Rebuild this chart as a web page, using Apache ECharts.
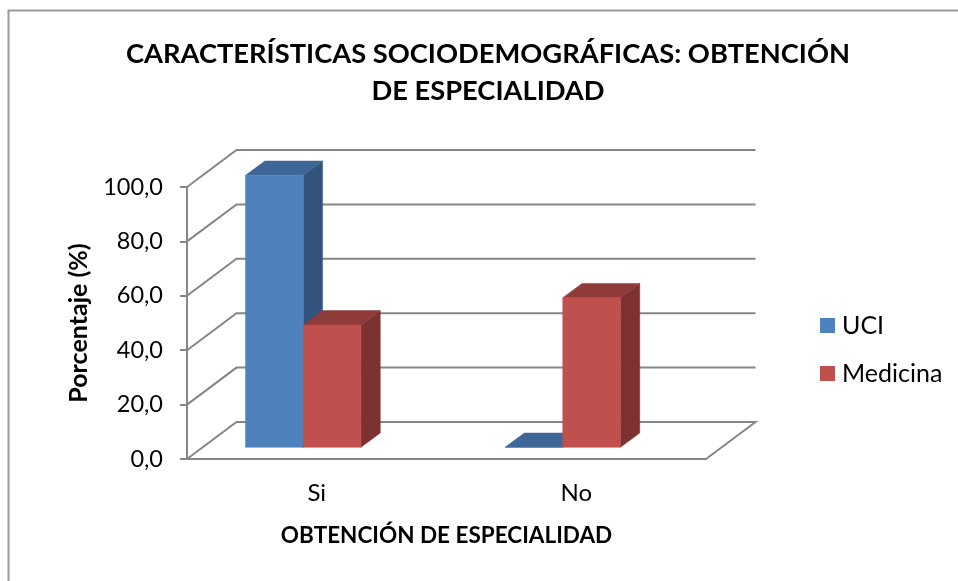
<!DOCTYPE html>
<html><head><meta charset="utf-8">
<style>html,body{margin:0;padding:0;background:#fff}#c{width:958px;height:581px}</style>
<script src="https://cdn.jsdelivr.net/npm/echarts@6/dist/echarts.min.js"></script>
</head><body><div id="c"></div>
<script>
const categories = ['Si', 'No'];
const uci = [100, 0];
const medicina = [45, 55];
const yTicks = [0, 20, 40, 60, 80, 100];

const FONT = 'Lato';
const AXIS = '#868686';
const WALL = {dx: 49.5, dy: 37};
const BAR = {width: 57.7, dx: 19.3, dy: 14.3, liftX: 15.6, liftY: 11.7, shift: -13.5};

function wallItem(params, api) {
  const cs = params.coordSys;
  const v = api.value(0);
  const y = api.coord([categories[0], v])[1];
  const x0 = cs.x, x1 = cs.x + cs.width;
  const pts = v === 0
    ? [[x0, y], [x0 + WALL.dx, y - WALL.dy], [x1 + WALL.dx, y - WALL.dy], [x1, y]]
    : [[x0, y], [x0 + WALL.dx, y - WALL.dy], [x1 + WALL.dx, y - WALL.dy]];
  return {type: 'polyline', shape: {points: pts},
    style: {stroke: AXIS, lineWidth: 2, fill: null}, silent: true};
}

function barRenderer(side, front, sideCol, topCol) {
  return function (params, api) {
    const p = api.coord([api.value(0), api.value(1)]);
    const base = api.coord([api.value(0), 0]);
    const xa = p[0] + BAR.shift + (side < 0 ? -BAR.width : 0);
    const xb = xa + BAR.width;
    const yt = p[1] - BAR.liftY;
    const yb = base[1] - BAR.liftY;
    const d = BAR.dx, e = BAR.dy;
    const poly = (pts, col) => ({type: 'polygon', shape: {points: pts},
      style: {fill: col, stroke: col, lineWidth: 0.5}, silent: true});
    return {type: 'group', children: [
      poly([[xb, yb], [xb + d, yb - e], [xb + d, yt - e], [xb, yt]], sideCol),
      poly([[xa, yt], [xa + d, yt - e], [xb + d, yt - e], [xb, yt]], topCol),
      poly([[xa, yb], [xb, yb], [xb, yt], [xa, yt]], front)
    ]};
  };
}

const chart = echarts.init(document.getElementById('c'), null, {renderer: 'canvas'});
chart.setOption({
  animation: false,
  backgroundColor: '#ffffff',
  title: {
    text: 'CARACTERÍSTICAS SOCIODEMOGRÁFICAS: OBTENCIÓN\nDE ESPECIALIDAD',
    left: 483, top: 31, textAlign: 'center',
    textStyle: {fontFamily: FONT, fontWeight: 'bold', fontSize: 27.3, lineHeight: 37, color: '#000'}
  },
  legend: {
    orient: 'vertical', left: 820, top: 313, icon: 'rect',
    itemWidth: 15, itemHeight: 15, itemGap: 23, padding: 0,
    data: ['UCI', 'Medicina'],
    selectedMode: false,
    textStyle: {fontFamily: FONT, fontSize: 25, color: '#000', padding: [0, 0, 0, 2], lineHeight: 20}
  },
  grid: {left: 187, top: 187, width: 519, height: 272},
  xAxis: {
    type: 'category', data: categories,
    axisLine: {lineStyle: {color: AXIS, width: 2}},
    axisTick: {show: false},
    axisLabel: {fontFamily: FONT, fontSize: 24, color: '#000', margin: 22},
    name: 'OBTENCIÓN DE ESPECIALIDAD', nameLocation: 'middle', nameGap: 65,
    nameTextStyle: {fontFamily: FONT, fontWeight: 'bold', fontSize: 22.5, color: '#000'}
  },
  yAxis: {
    type: 'value', min: 0, max: 100, interval: 20,
    axisLine: {show: true, lineStyle: {color: AXIS, width: 2}},
    axisTick: {show: true, length: 7, lineStyle: {color: AXIS, width: 2}},
    splitLine: {show: false},
    axisLabel: {fontFamily: FONT, fontSize: 23.5, color: '#000', margin: 24, padding: [5, 0, 0, 0],
      formatter: v => v.toFixed(1).replace('.', ',')},
    name: 'Porcentaje (%)', nameLocation: 'middle', nameGap: 96, nameRotate: 90,
    nameTextStyle: {fontFamily: FONT, fontWeight: 'bold', fontSize: 25, color: '#000'}
  },
  graphic: [
    {type: 'polyline', silent: true, shape: {points: [[8.5, 581], [8.5, 10.5], [958, 10.5]]},
     style: {stroke: '#9a9a9a', lineWidth: 2, fill: null}}
  ],
  series: [
    {type: 'custom', name: 'walls', coordinateSystem: 'cartesian2d', silent: true, z: 1,
     data: yTicks.map(v => [v]), encode: {y: 0}, renderItem: wallItem, clip: false},
    {type: 'custom', name: 'UCI', coordinateSystem: 'cartesian2d', z: 2, clip: false,
     itemStyle: {color: '#4F81BD'},
     data: categories.map((c, i) => [c, uci[i]]), encode: {x: 0, y: 1},
     renderItem: barRenderer(-1, '#4F81BD', '#32547C', '#3E6797')},
    {type: 'custom', name: 'Medicina', coordinateSystem: 'cartesian2d', z: 3, clip: false,
     itemStyle: {color: '#C0504D'},
     data: categories.map((c, i) => [c, medicina[i]]), encode: {x: 0, y: 1},
     renderItem: barRenderer(1, '#C0504D', '#7D3231', '#8F3B39')}
  ]
});
</script></body></html>
